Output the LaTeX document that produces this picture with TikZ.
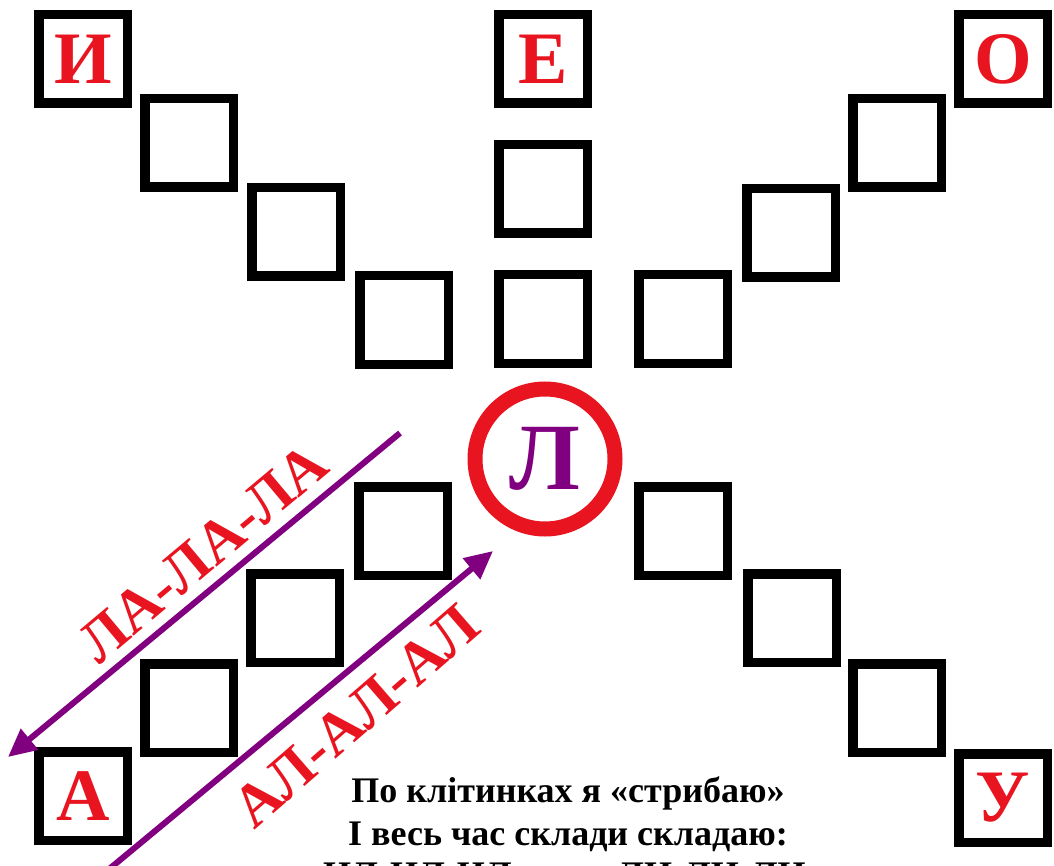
\documentclass[tikz,border=0pt]{standalone}
\usepackage{fontspec}
\setmainfont{Liberation Serif}[BoldFont={Liberation Serif Bold}]
\newfontfamily\heavyfont{Liberation Serif Bold}
\usetikzlibrary{arrows.meta}
\definecolor{lred}{HTML}{E8141F}
\definecolor{lpurple}{HTML}{800080}
\tikzset{
  cell/.style={draw=black, line width=9.5pt, minimum size=88.5pt, inner sep=0pt, outer sep=0pt, fill=white},
  letter/.style={text=lred, font=\heavyfont\fontsize{74}{74}\selectfont},
  sylarrow/.style={draw=lpurple, line width=6pt, -{Triangle[length=28pt,width=26pt]}},
  syl/.style={text=lred, font=\heavyfont\fontsize{60}{60}\selectfont, inner sep=0pt},
  verse/.style={font=\heavyfont\fontsize{36}{42}\selectfont, inner sep=0pt}
}
\begin{document}
\begin{tikzpicture}[x=1pt,y=-1pt]
\useasboundingbox (0,0) rectangle (1054,866);
\clip (0,0) rectangle (1054,866);
% upper-left diagonal
\node[cell] (i0) at (83,59) {};
\node[letter] (iL) at (i0.center) {И};
\node[cell] (i1) at (189,143) {};
\node[cell] (i2) at (296,232) {};
\node[cell] (i3) at (404,320) {};
% vertical
\node[cell] (e0) at (543,59) {};
\node[letter] (eL) at (e0.center) {Е};
\node[cell] (e1) at (543,189) {};
\node[cell] (e2) at (543,319) {};
% upper-right diagonal
\node[cell] (o0) at (1003,59) {};
\node[letter] (oL) at (o0.center) {О};
\node[cell] (o1) at (897,143) {};
\node[cell] (o2) at (791,233) {};
\node[cell] (o3) at (683,319) {};
% lower-left diagonal
\node[cell] (a3) at (403,531) {};
\node[cell] (a2) at (295,618) {};
\node[cell] (a1) at (189,708) {};
\node[cell] (a0) at (83,796) {};
\node[letter] (aL) at (a0.center) {А};
% lower-right diagonal
\node[cell] (u3) at (683,531) {};
\node[cell] (u2) at (792,618) {};
\node[cell] (u1) at (897,708) {};
\node[cell] (u0) at (1003,798) {};
\node[letter] (uL) at (u0.center) {У};
% centre circle
\node[circle, draw=lred, line width=15pt, minimum size=140pt, inner sep=0pt] (l) at (545,459) {};
\node[text=lpurple, font=\heavyfont\fontsize{95}{95}\selectfont] (lL) at (l.center) {Л};
% arrows
\coordinate (la1) at (400,433);
\coordinate (la2) at (8,757);
\coordinate (al1) at (108,870);
\coordinate (al2) at (493,551);
\draw[sylarrow] (la1) -- (la2);
\draw[sylarrow] (al1) -- (al2);
\node[syl, rotate=40] (tla) at (203,553) {ЛА-ЛА-ЛА};
\node[syl, rotate=41] (tal) at (356,716) {АЛ-АЛ-АЛ};
% verse
\node[verse, anchor=base] (v1) at (568,802) {По клітинках я «стрибаю»};
\node[verse, anchor=base] (v2) at (568,845) {І весь час склади складаю:};
\node[verse, anchor=base west] (v3a) at (323,886) {ИЛ-ИЛ-ИЛ};
\node[verse, anchor=base west] (v3b) at (617,886) {ЛИ-ЛИ-ЛИ};
\end{tikzpicture}
\end{document}
